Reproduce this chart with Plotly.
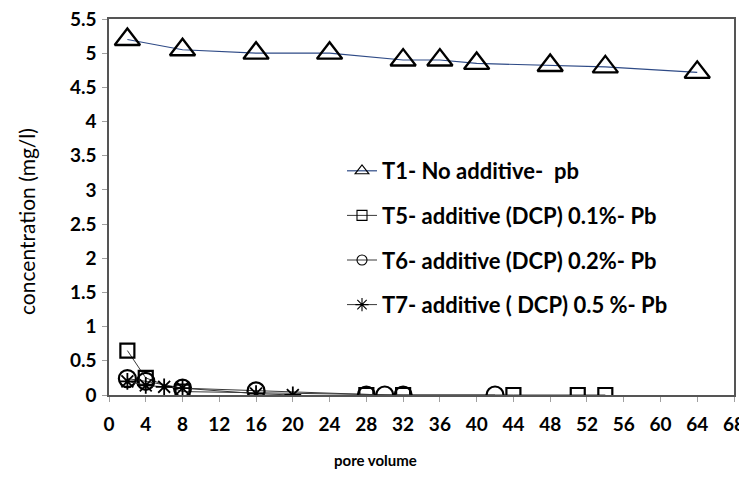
import plotly.graph_objects as go

# ---- data ----
t1_x = [2, 8, 16, 24, 32, 36, 40, 48, 54, 64]
t1_y = [5.2, 5.05, 5.0, 5.0, 4.9, 4.9, 4.85, 4.82, 4.8, 4.72]

t5_x = [2, 4, 8, 28, 32, 44, 51, 54]
t5_y = [0.65, 0.25, 0.05, 0.0, 0.0, 0.0, 0.0, 0.0]

t6_x = [2, 4, 8, 16, 28, 30, 32, 42]
t6_y = [0.24, 0.2, 0.1, 0.06, 0.0, 0.0, 0.0, 0.0]

t7_x = [2, 4, 6, 8, 16, 20]
t7_y = [0.2, 0.14, 0.12, 0.1, 0.02, 0.0]

names = ["T1- No additive-  pb",
         "T5- additive (DCP) 0.1%- Pb",
         "T6- additive (DCP) 0.2%- Pb",
         "T7- additive ( DCP) 0.5 %- Pb"]

x_ticks = list(range(0, 69, 4))
y_ticks = [i * 0.5 for i in range(12)]

FONT = "Lato"
W, H = 747, 485
OFF = 8                       # page body margin
# plot area in page pixels -> figure pixels
L, R, T, B = 109 - OFF, 734 - OFF, 19 - OFF, 395 - OFF


def px(xp):
    return (xp - OFF - L) / (R - L)


def py(yp):
    return (B - (yp - OFF)) / (B - T)


series = [
    (t1_x, t1_y, "#2E4A86", 1.2, "triangle-up-open", 22, 2.3, 12),
    (t5_x, t5_y, "#3a3a3a", 1.0, "square-open", 14, 2.2, 10),
    (t6_x, t6_y, "#3a3a3a", 1.0, "circle-open", 17, 2.2, 10),
    (t7_x, t7_y, "#3a3a3a", 1.0, "asterisk-open", 14, 1.8, 11),
]

fig = go.Figure()
for i, (xs, ys, lc, lw, sym, ms, mlw, lms) in enumerate(series):
    fig.add_trace(go.Scatter(
        x=xs, y=ys, name=names[i], mode="lines+markers", showlegend=False,
        line=dict(color=lc, width=lw),
        marker=dict(symbol=sym, size=ms, color="black",
                    line=dict(color="black", width=mlw))))
# legend entries (small markers like the original legend)
for i, (xs, ys, lc, lw, sym, ms, mlw, lms) in enumerate(series):
    fig.add_trace(go.Scatter(
        x=[None], y=[None], name=names[i], mode="lines+markers",
        legendgroup=f"g{i}", showlegend=True,
        line=dict(color=lc, width=lw),
        marker=dict(symbol=sym, size=lms, color="black",
                    line=dict(color="black", width=1.1))))

tick_font = dict(family=FONT, size=19, color="black", weight="bold")
FRAME = "#555555"

fig.update_layout(
    width=W, height=H,
    margin=dict(l=L, r=W - R, t=T, b=H - B, autoexpand=False),
    paper_bgcolor="white", plot_bgcolor="white",
    font=dict(family=FONT, color="black"),
    showlegend=True,
    legend=dict(x=px(342), y=py(150),
                xanchor="left", yanchor="top",
                bgcolor="rgba(0,0,0,0)", tracegroupgap=13,
                font=dict(family=FONT, size=22, color="black", weight="bold")),
    xaxis=dict(range=[0, 68], tickmode="array", tickvals=x_ticks,
               ticks="outside", ticklen=5, tickcolor="#a0a0a0",
               showline=True, linecolor=FRAME, linewidth=1.5, mirror=True,
               showgrid=False, zeroline=False, ticklabelstandoff=6,
               automargin=False,
               ticklabeloverflow="allow", tickfont=tick_font),
    yaxis=dict(range=[0, 5.5], tickmode="array", tickvals=y_ticks,
               ticktext=[f"{v:g}" for v in y_ticks],
               ticks="outside", ticklen=5, tickcolor="#a0a0a0",
               showline=True, linecolor=FRAME, linewidth=1.5, mirror=True,
               showgrid=False, zeroline=False, ticklabelstandoff=2,
               automargin=False,
               ticklabeloverflow="allow", tickfont=tick_font),
    annotations=[
        dict(text="concentration (mg/l)", xref="paper", yref="paper",
             x=px(26), y=py(222), textangle=-90, showarrow=False,
             xanchor="center", yanchor="middle",
             font=dict(family=FONT, size=21, color="black")),
        dict(text="<b>pore volume</b>", xref="paper", yref="paper",
             x=px(375), y=py(460), showarrow=False,
             xanchor="center", yanchor="middle",
             font=dict(family=FONT, size=15, color="black")),
    ],
)

fig.write_html("out.html")
